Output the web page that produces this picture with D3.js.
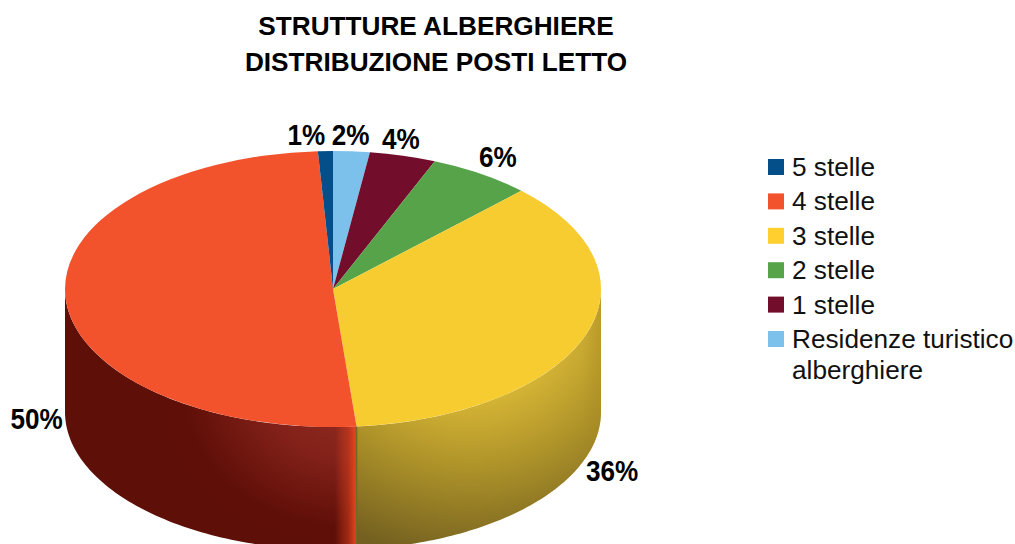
<!DOCTYPE html>
<html><head><meta charset="utf-8">
<script src="https://cdn.jsdelivr.net/npm/d3@7"></script>
<style>html,body{margin:0;padding:0;background:#fff}svg{display:block}text{font-family:"Liberation Sans",Arial,sans-serif}</style>
</head><body><svg id="c" width="1015" height="544"></svg>
<script>
const titleLines = ["STRUTTURE ALBERGHIERE", "DISTRIBUZIONE POSTI LETTO"];
const categories = ["5 stelle", "4 stelle", "3 stelle", "2 stelle", "1 stelle", "Residenze turistico alberghiere"];
const values = [0.9, 50.5, 36.2, 6.2, 4.0, 2.2];
const percentLabels = ["1%", "50%", "36%", "6%", "4%", "2%"];
const colors = ["#044e8a", "#f2532c", "#f6cc30", "#57a34a", "#720d2b", "#7cc1ec"];
const legendColors = ["#044e8a", "#f2532c", "#fecf2f", "#57a34a", "#720d2b", "#7cc1ec"];

const L = {cx: 333, cy: 289, rx: 268, ry: 138, depth: 123};
const labelNudge = [[-19,-16],[-29,120],[27,135],[17,-17],[-2,-17],[-1,-16]];
const svg = d3.select("#c");
const defs = svg.append("defs");

const order = d3.range(values.length).reverse();
const pie = d3.pie().sort(null).value(i => values[i]);
const arcs = pie(order);
const arcGen = d3.arc().innerRadius(0).outerRadius(L.rx);
const px = t => L.cx + L.rx * Math.sin(t);
const py = t => L.cy - L.ry * Math.cos(t);
const wall = d3.area().x(px).y0(py).y1(t => py(t) + L.depth);

function rg(id, attrs, stops){
  const g = defs.append(attrs.type).attr("id", id).attr("gradientUnits", "userSpaceOnUse");
  Object.entries(attrs).forEach(([k,v]) => { if(k!=="type") g.attr(k,v); });
  stops.forEach(([o,c,a]) => g.append("stop").attr("offset",o).attr("stop-color",c).attr("stop-opacity",a===undefined?1:a));
}
rg("wallY",{type:"radialGradient",cx:470,cy:300,r:260},[[.3,"#e2bf38"],[.65,"#ad9229"],[1,"#746020"]]);
rg("wallYEdge",{type:"linearGradient",x1:582,y1:0,x2:602,y2:0},[[0,"#a8861c",0],[1,"#a8861c",.3]]);
rg("wallR",{type:"radialGradient",cx:350,cy:395,r:195,gradientTransform:"translate(350 395) scale(1 .8) translate(-350 -395)"},[[0,"#8f2a1f"],[.4,"#84221a"],[.85,"#5f0f08"],[1,"#5e0f08"]]);
rg("wallREdge",{type:"linearGradient",x1:335,y1:0,x2:357,y2:0},[[0,"#ef4d22",0],[.6,"#e0431f",.5],[1,"#f0491f",1]]);

const visible = a => [Math.max(a.startAngle, Math.PI/2), Math.min(a.endAngle, 3*Math.PI/2)];
const walls = arcs.filter(a => visible(a)[0] < visible(a)[1]);
const samples = a => { const [s,e] = visible(a); return d3.range(0, 81).map(k => s + (e-s)*k/80); };
const wallFill = {2:"url(#wallY)",1:"url(#wallR)"};
const wallOver = {2:"url(#wallYEdge)",1:"url(#wallREdge)"};
svg.append("g").selectAll("path.w").data(walls).join("path").attr("class","w")
  .attr("d", a => wall(samples(a))).attr("fill", a => wallFill[a.data]);
svg.append("g").selectAll("path.o").data(walls).join("path").attr("class","o")
  .attr("d", a => wall(samples(a))).attr("fill", a => wallOver[a.data]);
const seam = arcs.find(a => a.data === 2).endAngle;
svg.append("line").attr("x1",px(seam)).attr("x2",px(seam)).attr("y1",py(seam)).attr("y2",py(seam)+L.depth)
  .attr("stroke","#6b6a28").attr("stroke-width",1.5);

svg.append("g").attr("transform",`translate(${L.cx},${L.cy}) scale(1,${L.ry/L.rx})`)
  .selectAll("path").data(arcs).join("path").attr("d",arcGen).attr("fill",a => colors[a.data]);

svg.append("g").selectAll("text").data(titleLines).join("text")
  .attr("x",436).attr("y",(d,i)=>35+i*36).attr("text-anchor","middle")
  .attr("font-size",26.2).attr("font-weight","bold").attr("fill","#000").text(d=>d);

svg.append("g").selectAll("text").data(arcs).join("text")
  .attr("text-anchor","middle").attr("font-size",29).attr("font-weight","bold").attr("fill","#000")
  .attr("dominant-baseline","central")
  .attr("x",a => px((a.startAngle+a.endAngle)/2) + labelNudge[a.data][0])
  .attr("y",a => py((a.startAngle+a.endAngle)/2) + labelNudge[a.data][1])
  .text(a => percentLabels[a.data])
  .each(function(){ this.setAttribute("lengthAdjust","spacingAndGlyphs"); this.setAttribute("textLength", this.getComputedTextLength()*0.9); });

const ly = d3.scalePoint().domain(categories).range([167,339]);
const leg = svg.append("g").selectAll("g").data(categories).join("g").attr("transform",d=>`translate(768,${ly(d)})`);
leg.append("rect").attr("y",-8).attr("width",16).attr("height",16).attr("fill",(d,i)=>legendColors[i]);
const lt = leg.append("text").attr("x",24).attr("font-size",26.2).attr("fill","#111").attr("y",9);
lt.each(function(d){
  const t = d3.select(this);
  const parts = d.startsWith("Residenze") ? ["Residenze turistico","alberghiere"] : [d];
  parts.forEach((p,i)=>t.append("tspan").attr("x",24).attr("dy",i?31:0).text(p));
});
</script></body></html>
